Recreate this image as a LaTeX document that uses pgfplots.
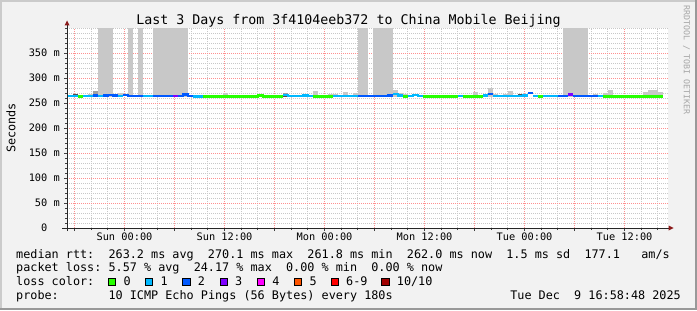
\documentclass[border=0pt]{standalone}
\usepackage{pgfplots}
\pgfplotsset{compat=1.18}
\usepackage{fontspec}
\setmainfont{DejaVu Sans Mono}
\newcommand\fs[1]{\fontsize{#1bp}{#1bp}\selectfont}
\definecolor{bgc}{HTML}{F2F2F2}
\definecolor{shadea}{HTML}{CBCBCB}
\definecolor{shadeb}{HTML}{999999}
\definecolor{mgrid}{HTML}{FF9090}
\definecolor{ngrid}{HTML}{C8C8C8}
\definecolor{arrowc}{HTML}{8B1A1A}
\definecolor{lc0}{HTML}{26FF00}
\definecolor{lc1}{HTML}{00B8FF}
\definecolor{lc2}{HTML}{0059FF}
\definecolor{lc3}{HTML}{7E00FF}
\definecolor{lc4}{HTML}{FF00FF}
\definecolor{lc5}{HTML}{FF5500}
\definecolor{lc6}{HTML}{FF0000}
\definecolor{lc10}{HTML}{A00000}
\definecolor{smokeA}{HTML}{C8C8C8}
\definecolor{smokeB}{HTML}{A0A0A0}
\definecolor{smokeC}{HTML}{505050}
\frenchspacing
\begin{document}
\begin{tikzpicture}[x=1bp,y=1bp]
\useasboundingbox (0,0) rectangle (697,310);
\fill[bgc] (0,0) rectangle (697,310);
\fill[shadea] (0,308) rectangle (697,310);
\fill[shadea] (0,0) rectangle (2,310);
\fill[shadeb] (0,0) rectangle (697,2);
\fill[shadeb] (695,0) rectangle (697,310);
\begin{axis}[
 at={(67bp,82bp)}, anchor=south west, scale only axis, width=601bp, height=200bp,
 xmin=-6.9, xmax=65.22, ymin=0, ymax=400,
 axis background/.style={fill=white},
 axis line style={draw=none},
 tick pos=left, tick align=outside,
 major tick length=3bp, minor tick length=2bp,
 every tick/.style={black!75, line width=0.8bp},
 xtick={-6,0,...,60},
 xticklabels={,Sun 00:00,,Sun 12:00,,Mon 00:00,,Mon 12:00,,Tue 00:00,,Tue 12:00},
 minor xtick={-4,-2,2,4,8,10,14,16,20,22,26,28,32,34,38,40,44,46,50,52,56,58,62,64},
 ytick={0,50,...,350},
 yticklabels={0\phantom{mm},50 m,100 m,150 m,200 m,250 m,300 m,350 m},
 minor ytick={10,20,30,40,60,70,80,90,110,120,130,140,160,170,180,190,210,220,230,240,260,270,280,290,310,320,330,340,360,370,380,390,400},
 grid=both,
 major grid style={mgrid, line width=1bp, dash pattern=on 1bp off 1bp},
 minor grid style={ngrid, line width=1bp, dash pattern=on 1bp off 1bp},
 ticklabel style={font=\fs{10.3}, inner sep=0pt},
 xticklabel shift=2bp, yticklabel shift=4bp,
 unbounded coords=jump,
]
% smoke: large light bars (pings far above 400 ms)
\addplot[smokeA, line width=5.15bp] coordinates {
(-2.88,262)(-2.88,401) (0,nan) (-2.28,262)(-2.28,401) (0,nan) (-1.68,262)(-1.68,401) (0,nan)
(0.72,262)(0.72,401) (0,nan) (1.92,262)(1.92,401) (0,nan)
(3.72,262)(3.72,401) (0,nan) (4.32,262)(4.32,401) (0,nan) (4.92,262)(4.92,401) (0,nan)
(5.52,262)(5.52,401) (0,nan) (6.12,262)(6.12,401) (0,nan) (6.72,262)(6.72,401) (0,nan) (7.32,262)(7.32,401) (0,nan)
(28.32,262)(28.32,401) (0,nan) (28.92,262)(28.92,401) (0,nan)
(30.12,262)(30.12,401) (0,nan) (30.72,262)(30.72,401) (0,nan) (31.32,262)(31.32,401) (0,nan) (31.92,262)(31.92,401) (0,nan)
(52.92,262)(52.92,401) (0,nan) (53.52,262)(53.52,401) (0,nan) (54.12,262)(54.12,401) (0,nan) (54.72,262)(54.72,401) (0,nan) (55.32,262)(55.32,401)
};
% smoke: small light
\addplot[smokeA, line width=5.15bp] coordinates {
(-4.08,262)(-4.08,268) (0,nan) (-0.48,262)(-0.48,270) (0,nan) (12.12,262)(12.12,270) (0,nan)
(22.92,262)(22.92,274) (0,nan) (24.72,262)(24.72,268) (0,nan) (25.32,262)(25.32,268) (0,nan)
(26.52,262)(26.52,272) (0,nan) (27.72,262)(27.72,270) (0,nan) (32.52,262)(32.52,276) (0,nan)
(33.12,262)(33.12,270) (0,nan) (33.72,262)(33.72,268) (0,nan) (42.12,262)(42.12,272) (0,nan)
(43.92,262)(43.92,280) (0,nan) (44.52,262)(44.52,268) (0,nan) (45.72,262)(45.72,268) (0,nan)
(46.32,262)(46.32,274) (0,nan) (51.12,262)(51.12,266) (0,nan) (56.52,262)(56.52,268) (0,nan)
(57.72,262)(57.72,270) (0,nan) (58.32,262)(58.32,276) (0,nan) (60.72,262)(60.72,266) (0,nan)
(62.52,262)(62.52,272) (0,nan) (63.12,262)(63.12,277) (0,nan) (63.72,262)(63.72,277) (0,nan)
(64.32,262)(64.32,272)
};
% smoke: mid
\addplot[smokeB, line width=5.15bp] coordinates {
(-3.48,262)(-3.48,274) (0,nan) (19.32,262)(19.32,270)
};
% smoke: dark
\addplot[smokeC, line width=5.15bp] coordinates {
(-5.88,262)(-5.88,267.5) (0,nan) (19.32,262)(19.32,267.5) (0,nan) (21.72,262)(21.72,267) (0,nan)
(43.32,262)(43.32,267.5) (0,nan) (47.52,262)(47.52,267.5)
};
% median rtt, coloured by loss
\addplot[lc1, line width=2.6bp] coordinates {
(-7.38,264)(-5.58,264) (0,nan) (-4.98,264)(-3.78,264) (0,nan) (-3.18,264)(-2.58,264) (0,nan)
(-0.78,264)(-0.18,264) (0,nan) (2.22,264)(3.42,264) (0,nan) (8.22,263.5)(9.42,263.5) (0,nan)
(19.02,266)(19.62,266)(19.62,264)(21.42,264)(21.42,265)(22.02,265)(22.02,264)(22.62,264) (0,nan)
(25.02,264)(28.02,264) (0,nan) (32.22,268)(32.82,268)(32.82,265)(33.42,265) (0,nan)
(34.02,264)(34.62,264)(34.62,266)(35.22,266)(35.22,264)(35.82,264) (0,nan)
(40.02,264)(40.62,264) (0,nan) (43.02,265)(43.62,265) (0,nan)
(44.22,264)(47.82,264)(47.82,265)(48.42,265) (0,nan) (49.02,264)(49.62,264) (0,nan)
(50.22,264)(52.02,264) (0,nan) (56.82,264)(57.42,264)
};
\addplot[lc0, line width=2.6bp] coordinates {
(-5.58,263)(-4.98,263) (0,nan)
(9.42,263)(16.02,263)(16.02,264.5)(16.62,264.5)(16.62,263)(19.02,263) (0,nan)
(22.62,263)(25.02,263) (0,nan) (33.42,263)(34.02,263) (0,nan) (35.82,263)(40.02,263) (0,nan)
(40.62,263)(43.02,263) (0,nan) (49.62,263)(50.22,263) (0,nan) (57.42,263)(64.62,263)
};
\addplot[lc2, line width=2.6bp] coordinates {
(-3.78,265)(-3.18,265) (0,nan)
(-2.58,265)(-1.98,265)(-1.98,266)(-1.38,266)(-1.38,265)(-0.78,265) (0,nan)
(-0.18,266)(0.42,266)(0.42,264)(2.22,264) (0,nan) (3.42,264)(5.82,264) (0,nan)
(6.42,264)(7.02,264)(7.02,267)(7.62,267)(7.62,264)(8.22,264) (0,nan)
(28.02,264)(31.62,264)(31.62,265)(32.22,265) (0,nan) (43.62,268)(44.22,268) (0,nan)
(48.42,270)(49.02,270) (0,nan) (52.02,264)(53.22,264) (0,nan) (53.82,264)(56.82,264)
};
\addplot[lc3, line width=2.6bp] coordinates {
(5.82,264)(6.42,264) (0,nan) (53.22,267)(53.82,267)
};
\end{axis}
% axes with arrows
\draw[black!85, line width=1bp] (62,82) -- (668.5,82);
\fill[arrowc] (668.5,79.5) -- (673.5,82) -- (668.5,84.5) -- cycle;
\draw[black!85, line width=1bp] (67,79) -- (67,284.5);
\fill[arrowc] (64.5,284.5) -- (67,289.5) -- (69.5,284.5) -- cycle;
% texts
\node[anchor=base, inner sep=0pt, font=\fs{13.3}] at (348.5,286) {Last 3 Days from 3f4104eeb372 to China Mobile Beijing};
\node[rotate=90, inner sep=0pt, font=\fs{11.8}] at (11,182) {Seconds};
\node[rotate=-90, inner sep=0pt, font=\fs{8.3}, text=black!35] at (686.5,250) {RRDTOOL / TOBI OETIKER};
\begin{scope}[every node/.style={anchor=base west, inner sep=0pt, font=\fs{11.8}}]
\node at (16,52) {median rtt:~~263.2 ms avg~~270.1 ms max~~261.8 ms min~~262.0 ms now~~1.5 ms sd~~177.1~~~am/s};
\node at (16,39) {packet loss: 5.57 \% avg~~24.17 \% max~~0.00 \% min~~0.00 \% now};
\node at (16,25) {loss color:};
\node at (16,11) {probe:~~~~~~~10 ICMP Echo Pings (56 Bytes) every 180s};
\node[anchor=base east] at (681,11) {Tue Dec~~9 16:58:48 2025};
\foreach \bx/\col/\lab in {108.3/lc0/0,145.5/lc1/1,182.7/lc2/2,219.9/lc3/3,257.1/lc4/4,294.3/lc5/5,331.0/lc6/{6-9},381.7/lc10/{10/10}}{
  \filldraw[fill=\col, draw=black, line width=0.8bp] (\bx,24.6) rectangle ++(7.3,7.3);
  \node at (\bx+15,25) {\lab};
}
\end{scope}
\end{tikzpicture}
\end{document}
